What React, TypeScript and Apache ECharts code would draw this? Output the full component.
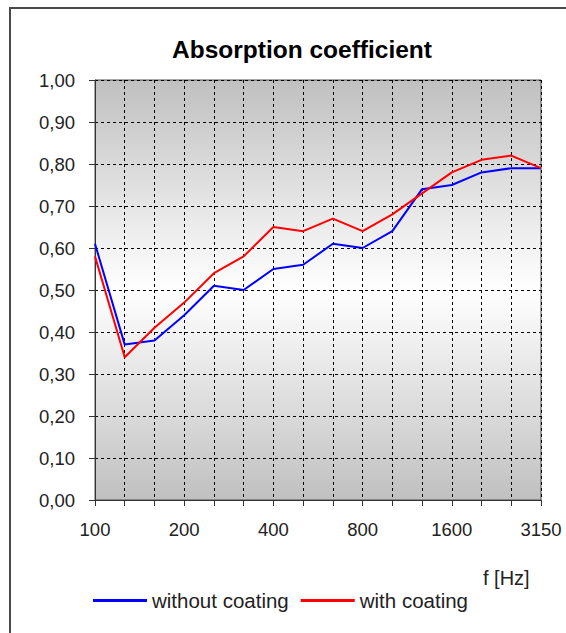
import React, { useEffect, useRef } from "react";
import * as echarts from "echarts";

const categories = ["100", "125", "160", "200", "250", "315", "400", "500", "630", "800", "1000", "1250", "1600", "2000", "2500", "3150"];
const withoutCoating = [0.61, 0.37, 0.38, 0.44, 0.51, 0.5, 0.55, 0.56, 0.61, 0.6, 0.64, 0.74, 0.75, 0.78, 0.79, 0.79];
const withCoating = [0.58, 0.34, 0.41, 0.47, 0.54, 0.58, 0.65, 0.64, 0.67, 0.64, 0.68, 0.73, 0.78, 0.81, 0.82, 0.79];
const titleText = "Absorption coefficient";
const axisUnit = "f [Hz]";
const seriesNames = ["without coating", "with coating"];

const FONT = "'Liberation Sans', Arial, sans-serif";

export default function App() {
  const ref = useRef<HTMLDivElement>(null);
  useEffect(() => {
    if (!ref.current) return;
    const chart = echarts.init(ref.current, undefined, { renderer: "svg" });
    chart.setOption({
      animation: false,
      backgroundColor: "#ffffff",
      textStyle: { fontFamily: FONT },
      graphic: [
        {
          type: "rect",
          z: -10,
          shape: { x: 10, y: 8, width: 700, height: 800 },
          style: { fill: "none", stroke: "#4a4a4a", lineWidth: 2 },
        },
        {
          type: "text",
          x: 302,
          y: 49,
          style: {
            text: titleText,
            fontFamily: FONT,
            fontWeight: "bold",
            fontSize: 24.5,
            fill: "#000000",
            align: "center",
            verticalAlign: "middle",
          },
        },
        {
          type: "text",
          x: 483,
          y: 578,
          style: {
            text: axisUnit,
            fontFamily: FONT,
            fontSize: 20,
            fill: "#222222",
            align: "left",
            verticalAlign: "middle",
          },
        },
      ],
      legend: {
        left: 93,
        top: 590,
        padding: 0,
        itemWidth: 54,
        itemHeight: 3,
        itemGap: 12,
        icon: "rect",
        textStyle: { fontFamily: FONT, fontSize: 20.5, color: "#222222", padding: [0, 0, 0, 0] },
        data: seriesNames,
      },
      grid: {
        left: 95,
        right: 25,
        top: 80,
        bottom: 133,
        show: true,
        borderColor: "#505050",
        borderWidth: 1,
        backgroundColor: {
          type: "linear",
          x: 0,
          y: 0,
          x2: 0,
          y2: 1,
          colorStops: [
            { offset: 0, color: "#c0c0c0" },
            { offset: 0.5, color: "#ffffff" },
            { offset: 1, color: "#c0c0c0" },
          ],
        },
      },
      xAxis: {
        type: "category",
        data: categories,
        boundaryGap: false,
        axisLine: { lineStyle: { color: "#333333", width: 1 } },
        axisTick: { show: true, interval: 0, length: 6, lineStyle: { color: "#333333" } },
        axisLabel: { interval: 2, margin: 20, fontFamily: FONT, fontSize: 18.5, color: "#222222" },
        splitLine: { show: true, interval: 0, lineStyle: { color: "#000000", type: [3, 3], width: 1 } },
      },
      yAxis: {
        type: "value",
        min: 0,
        max: 1,
        interval: 0.1,
        axisLine: { show: true, lineStyle: { color: "#333333", width: 1 } },
        axisTick: { show: true, length: 6, lineStyle: { color: "#333333" } },
        axisLabel: {
          margin: 20,
          fontFamily: FONT,
          fontSize: 18.5,
          color: "#222222",
          formatter: (v: number) => v.toFixed(2).replace(".", ","),
        },
        splitLine: { show: true, lineStyle: { color: "#000000", type: [3, 3], width: 1 } },
      },
      series: [
        {
          name: seriesNames[0],
          type: "line",
          data: withoutCoating,
          showSymbol: false,
          symbol: "none",
          lineStyle: { color: "#0000ff", width: 2 },
          itemStyle: { color: "#0000ff" },
        },
        {
          name: seriesNames[1],
          type: "line",
          data: withCoating,
          showSymbol: false,
          symbol: "none",
          lineStyle: { color: "#ff0000", width: 2 },
          itemStyle: { color: "#ff0000" },
        },
      ],
    });
    return () => chart.dispose();
  }, []);
  return (
    <div
      ref={ref}
      style={{ position: "fixed", left: 0, top: 0, width: 566, height: 633 }}
    />
  );
}
